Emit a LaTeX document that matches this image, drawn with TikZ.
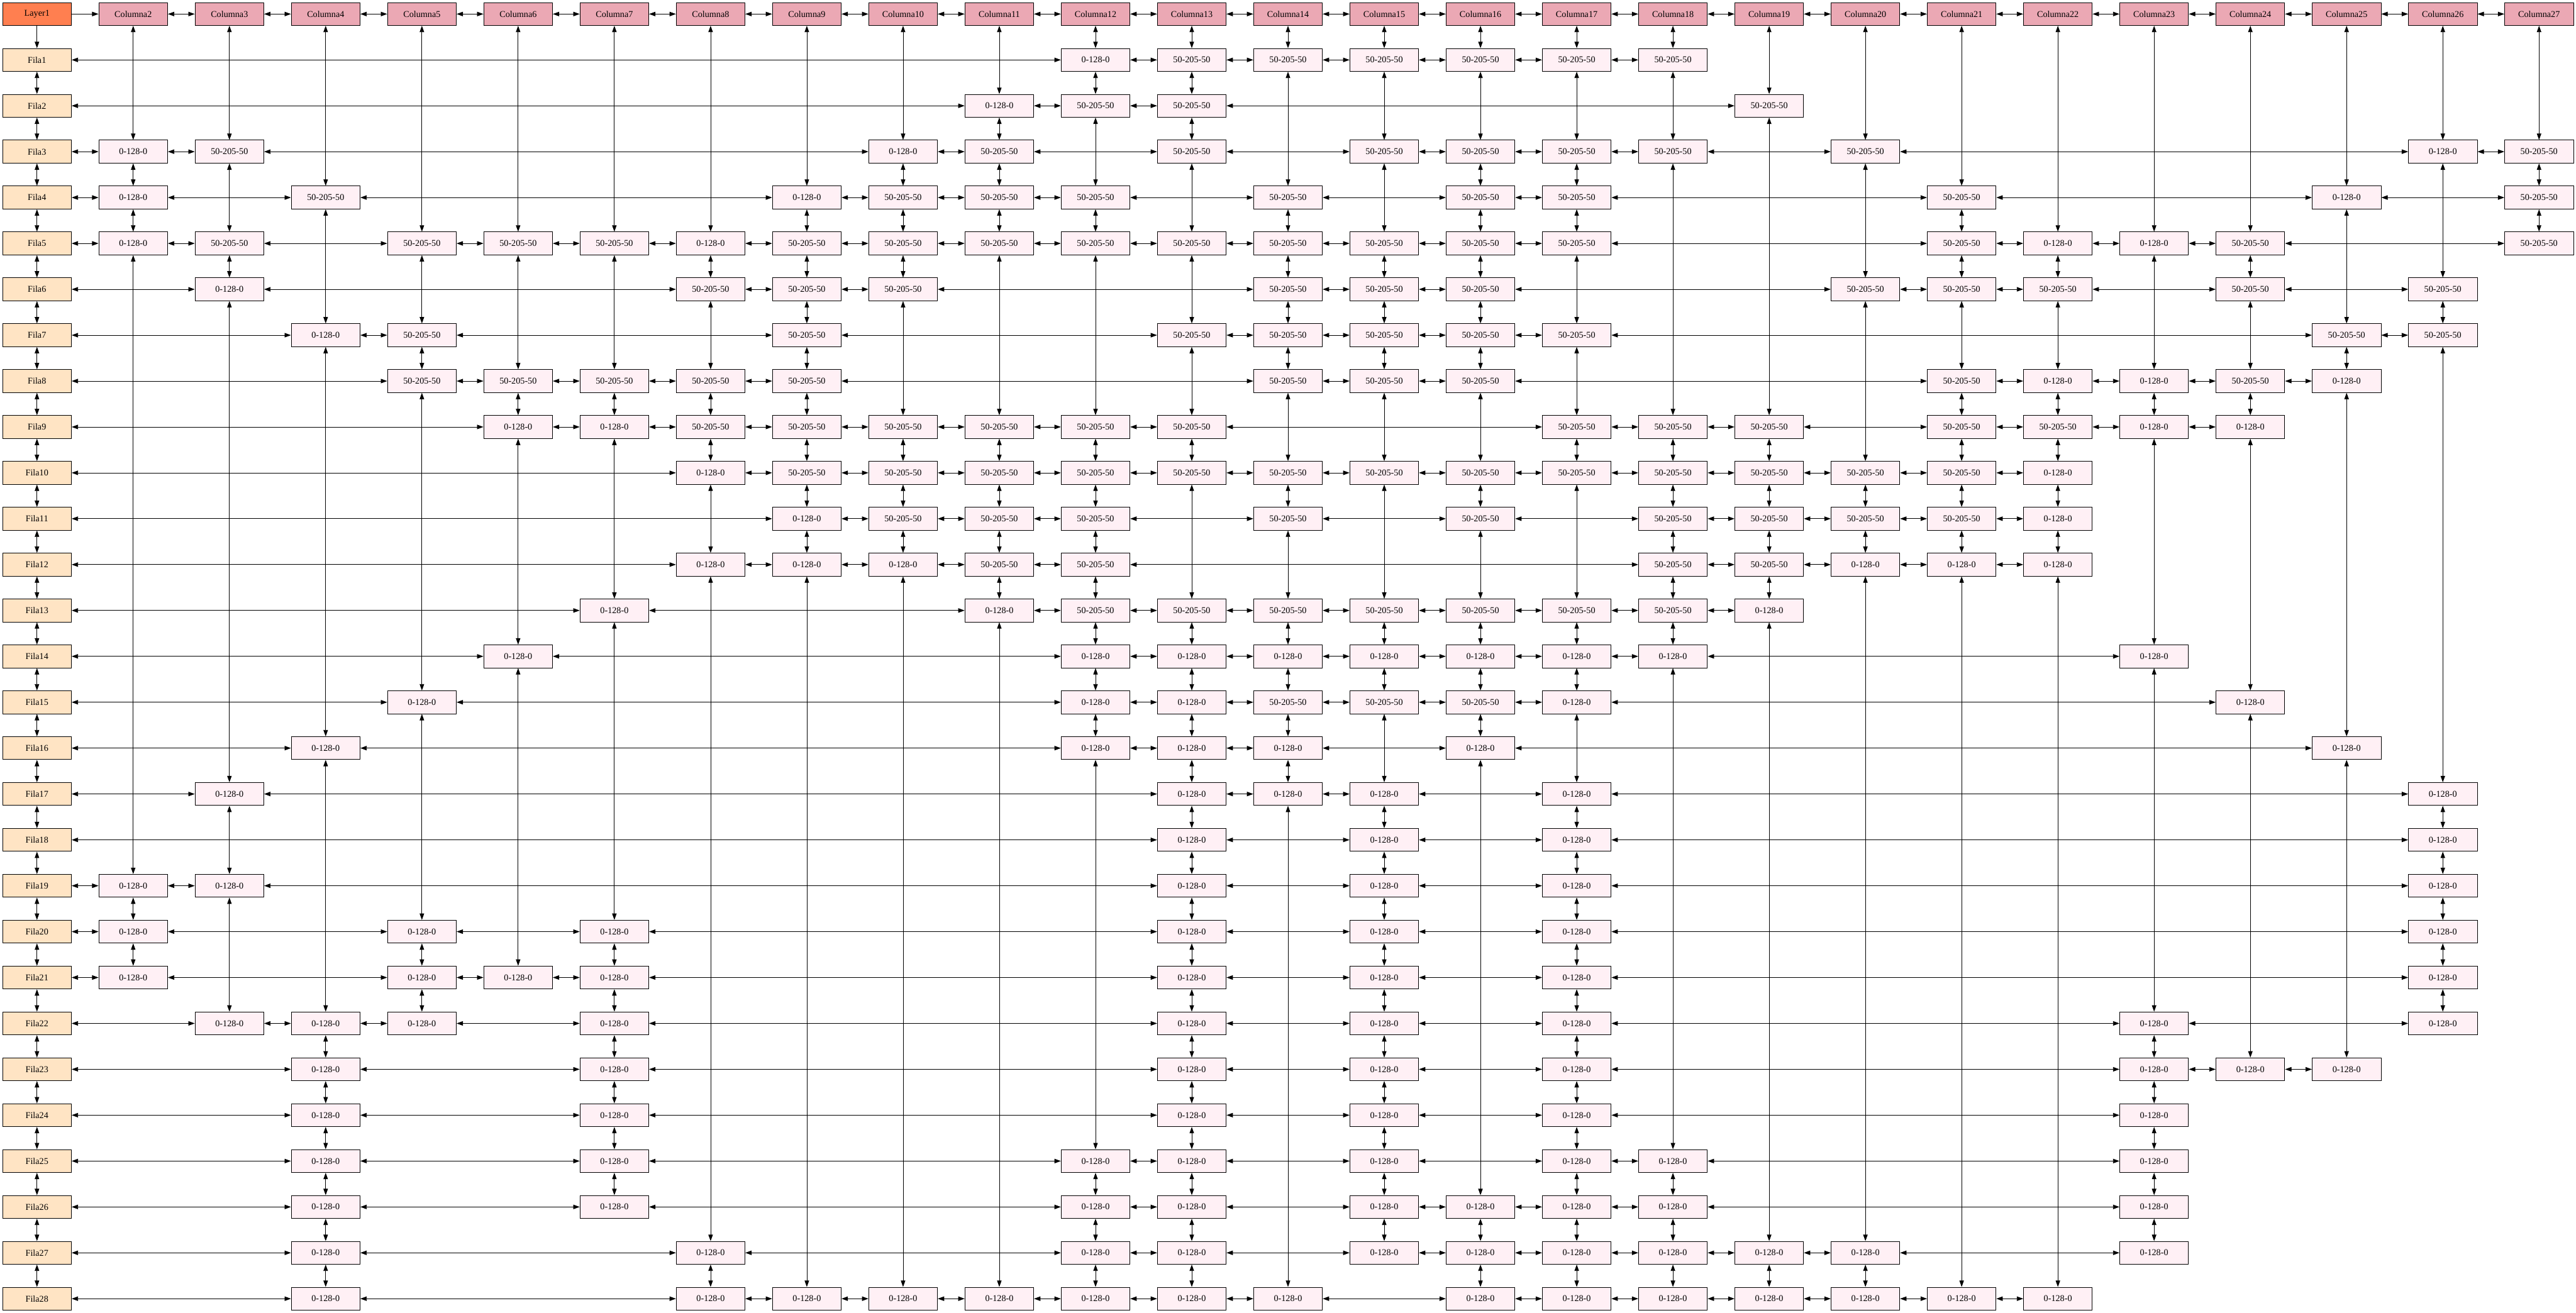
\documentclass[tikz,border=0pt]{standalone}
\usepackage{fontspec}
\setmainfont{Liberation Serif}
\usetikzlibrary{arrows.meta}
\definecolor{coralc}{HTML}{FF7F50}
\definecolor{colfill}{HTML}{EBA8B4}
\definecolor{rowfill}{HTML}{FFE4C4}
\definecolor{cellfill}{HTML}{FFF0F5}
\tikzset{
  box/.style={draw=black, line width=0.9pt, minimum width=108pt, minimum height=36pt, inner sep=0pt, font=\fontsize{14}{16}\selectfont},
  hdr/.style={box, fill=colfill},
  rowhdr/.style={box, fill=rowfill},
  rootbox/.style={box, fill=coralc},
  cellbox/.style={box, fill=cellfill},
  link/.style={line width=0.8pt, {Triangle[length=10pt,width=7pt]}-{Triangle[length=10pt,width=7pt]}},
  onelink/.style={line width=0.8pt, -{Triangle[length=10pt,width=7pt]}},
}
\newcommand\rowdata[2]{%
  \xdef\prevnode{f#1}%
  \foreach \c/\t in {#2} {%
    \node[cellbox] (n-#1-\c) at ({58+(\c-1)*151},{22+#1*72}) {\if a\t 0-128-0\else 50-205-50\fi};
    \edef\lastname{\csname lastc\c\endcsname}%
    \draw[link] (\prevnode) -- (n-#1-\c);
    \draw[link] (\lastname) -- (n-#1-\c);
    \xdef\prevnode{n-#1-\c}%
    \expandafter\xdef\csname lastc\c\endcsname{n-#1-\c}%
  }%
}
\begin{document}
\begin{tikzpicture}[x=1pt,y=-1pt]
\useasboundingbox (0,0) rectangle (4042,2060.25);
% header row
\node[rootbox] (h1) at (58,22) {Layer1};
\foreach \c in {2,...,27} {\node[hdr] (h\c) at ({58+(\c-1)*151},22) {Columna\c};}
\draw[onelink] (h1) -- (h2);
\foreach \c [evaluate=\c as \p using int(\c-1)] in {3,...,27} {\draw[link] (h\p) -- (h\c);}
% row headers
\foreach \r in {1,...,28} {\node[rowhdr] (f\r) at (58,{22+\r*72}) {Fila\r};}
\draw[onelink] (h1) -- (f1);
\foreach \r [evaluate=\r as \p using int(\r-1)] in {2,...,28} {\draw[link] (f\p) -- (f\r);}
% column pointers
\foreach \c in {2,...,27} {\expandafter\xdef\csname lastc\c\endcsname{h\c}}
% cells: a = 0-128-0, b = 50-205-50
\rowdata{1}{12/a,13/b,14/b,15/b,16/b,17/b,18/b}
\rowdata{2}{11/a,12/b,13/b,19/b}
\rowdata{3}{2/a,3/b,10/a,11/b,13/b,15/b,16/b,17/b,18/b,20/b,26/a,27/b}
\rowdata{4}{2/a,4/b,9/a,10/b,11/b,12/b,14/b,16/b,17/b,21/b,25/a,27/b}
\rowdata{5}{2/a,3/b,5/b,6/b,7/b,8/a,9/b,10/b,11/b,12/b,13/b,14/b,15/b,16/b,17/b,21/b,22/a,23/a,24/b,27/b}
\rowdata{6}{3/a,8/b,9/b,10/b,14/b,15/b,16/b,20/b,21/b,22/b,24/b,26/b}
\rowdata{7}{4/a,5/b,9/b,13/b,14/b,15/b,16/b,17/b,25/b,26/b}
\rowdata{8}{5/b,6/b,7/b,8/b,9/b,14/b,15/b,16/b,21/b,22/a,23/a,24/b,25/a}
\rowdata{9}{6/a,7/a,8/b,9/b,10/b,11/b,12/b,13/b,17/b,18/b,19/b,21/b,22/b,23/a,24/a}
\rowdata{10}{8/a,9/b,10/b,11/b,12/b,13/b,14/b,15/b,16/b,17/b,18/b,19/b,20/b,21/b,22/a}
\rowdata{11}{9/a,10/b,11/b,12/b,14/b,16/b,18/b,19/b,20/b,21/b,22/a}
\rowdata{12}{8/a,9/a,10/a,11/b,12/b,18/b,19/b,20/a,21/a,22/a}
\rowdata{13}{7/a,11/a,12/b,13/b,14/b,15/b,16/b,17/b,18/b,19/a}
\rowdata{14}{6/a,12/a,13/a,14/a,15/a,16/a,17/a,18/a,23/a}
\rowdata{15}{5/a,12/a,13/a,14/b,15/b,16/b,17/a,24/a}
\rowdata{16}{4/a,12/a,13/a,14/a,16/a,25/a}
\rowdata{17}{3/a,13/a,14/a,15/a,17/a,26/a}
\rowdata{18}{13/a,15/a,17/a,26/a}
\rowdata{19}{2/a,3/a,13/a,15/a,17/a,26/a}
\rowdata{20}{2/a,5/a,7/a,13/a,15/a,17/a,26/a}
\rowdata{21}{2/a,5/a,6/a,7/a,13/a,15/a,17/a,26/a}
\rowdata{22}{3/a,4/a,5/a,7/a,13/a,15/a,17/a,23/a,26/a}
\rowdata{23}{4/a,7/a,13/a,15/a,17/a,23/a,24/a,25/a}
\rowdata{24}{4/a,7/a,13/a,15/a,17/a,23/a}
\rowdata{25}{4/a,7/a,12/a,13/a,15/a,17/a,18/a,23/a}
\rowdata{26}{4/a,7/a,12/a,13/a,15/a,16/a,17/a,18/a,23/a}
\rowdata{27}{4/a,8/a,12/a,13/a,15/a,16/a,17/a,18/a,19/a,20/a,23/a}
\rowdata{28}{4/a,8/a,9/a,10/a,11/a,12/a,13/a,14/a,16/a,17/a,18/a,19/a,20/a,21/a,22/a}
\end{tikzpicture}
\end{document}
